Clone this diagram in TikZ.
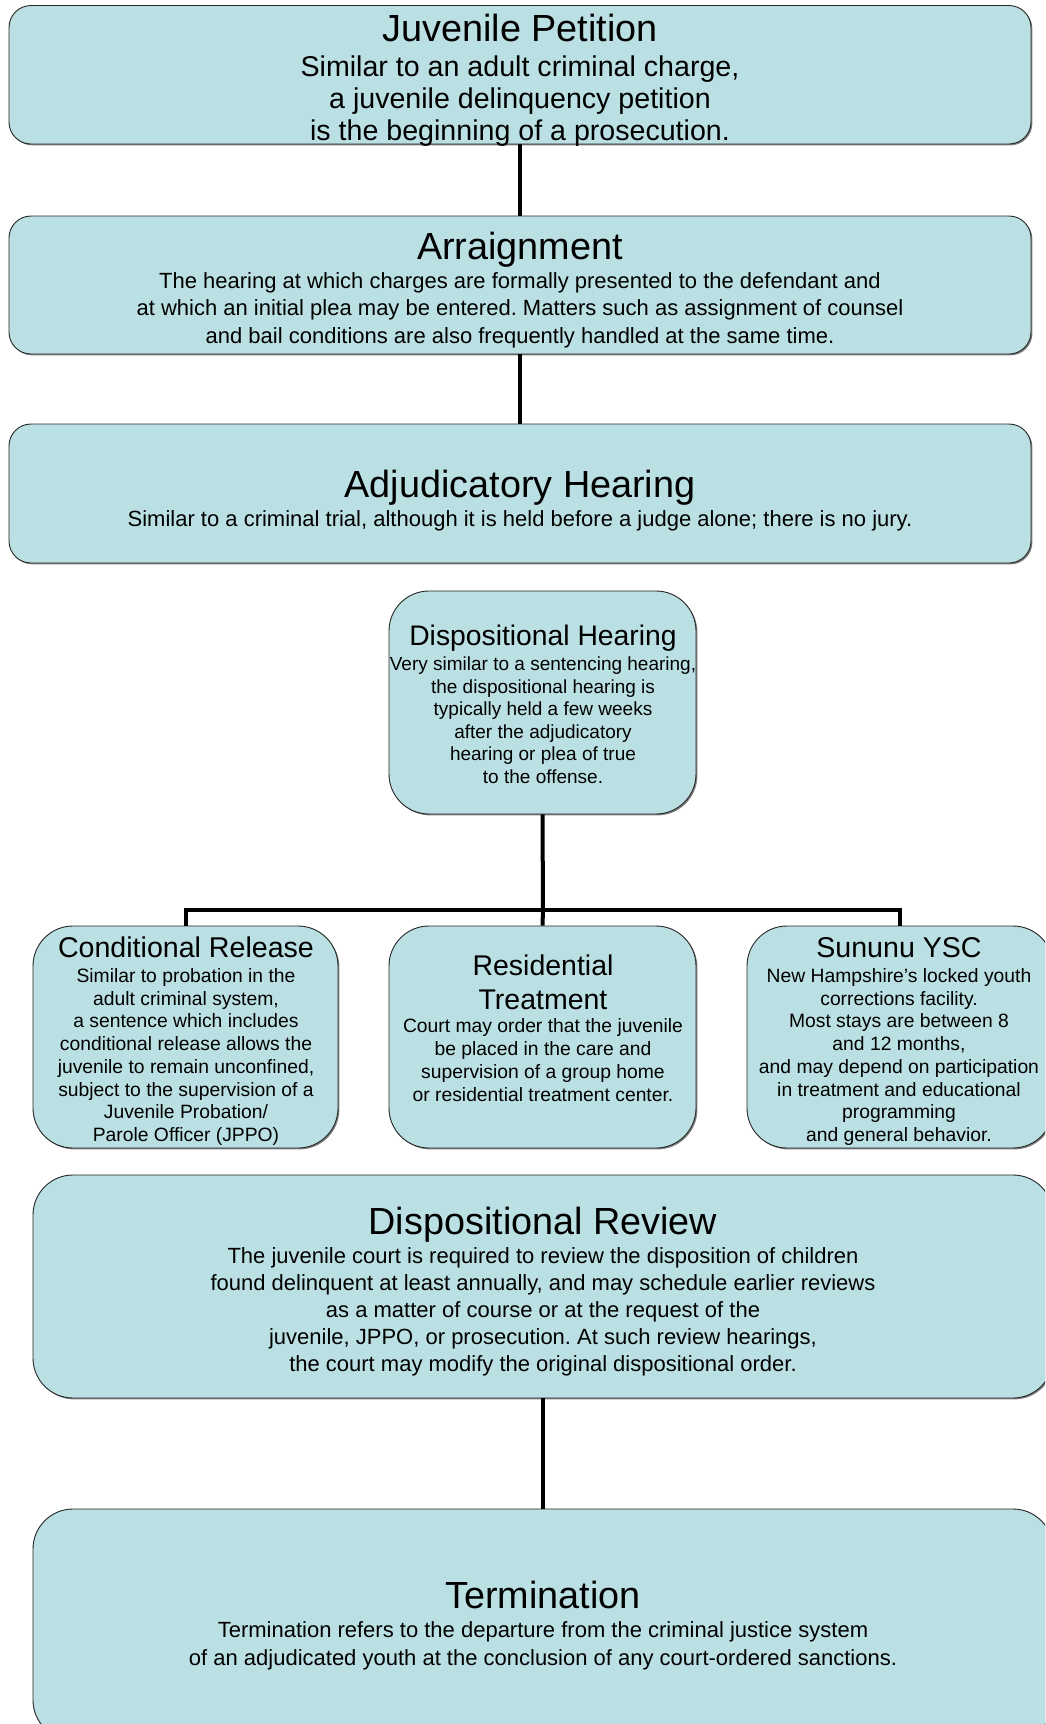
\documentclass[tikz,border=0pt]{standalone}
\usepackage{fontspec}
\setmainfont{Liberation Sans}
\frenchspacing
\usetikzlibrary{shadows}
\definecolor{boxfill}{RGB}{187,224,227}
\tikzset{
  box/.style={draw=black!85, line width=0.9pt, fill=boxfill, rectangle,
    drop shadow={shadow xshift=1.4pt, shadow yshift=-1.4pt, fill=black!50, opacity=1}},
  bigbox/.style={box, rounded corners=22pt},
  smallbox/.style={box, rounded corners=40pt},
  txt/.style={align=center, inner sep=0pt, anchor=base},
  conn/.style={line width=4pt, black},
}
\newcommand{\fs}[2]{\fontsize{#1}{#2}\selectfont}
\begin{document}
\begin{tikzpicture}[x=1pt, y=-1pt]
\clip (0,0) rectangle (1045,1724);
\fill[white] (0,0) rectangle (1045,1724);
% boxes
\node[bigbox, minimum width=1022pt, minimum height=138.5pt] (b1) at (520,74.75) {};
\node[bigbox, minimum width=1022pt, minimum height=138pt] (b2) at (520,285) {};
\node[bigbox, minimum width=1022pt, minimum height=139pt] (b3) at (520,493.5) {};
\node[smallbox, minimum width=307pt, minimum height=223pt] (b4) at (542.5,702.5) {};
\node[smallbox, minimum width=305pt, minimum height=222pt] (b5) at (185.5,1037) {};
\node[smallbox, minimum width=307pt, minimum height=222pt] (b6) at (542.5,1037) {};
\node[smallbox, minimum width=306pt, minimum height=222pt] (b7) at (900,1037) {};
\node[smallbox, minimum width=1020pt, minimum height=223pt] (b8) at (543,1286.5) {};
\node[smallbox, minimum width=1020pt, minimum height=231pt] (b9) at (543,1624.5) {};
% connectors
\coordinate (bar) at (543,910);
\draw[conn] (b1.south) -- (b2.north);
\draw[conn] (b2.south) -- (b3.north);
\draw[conn] (b4.south) -- (bar);
\draw[conn] (bar) -- (b6.north);
\draw[conn, line join=miter] (b5.north) |- (bar) -| (b7.north);
\draw[conn] (b8.south) -- (b9.north);
% texts (base anchor = baseline of last line)
\node[txt, font=\fs{37.8}{44}] (t1) at (520,41) {Juvenile Petition};
\node[txt, font=\fs{28.6}{32}] (d1) at (520,140.5) {Similar to an adult criminal charge,\\a juvenile delinquency petition\\is the beginning of a prosecution.};
\node[txt, font=\fs{37.8}{44}] (t2) at (520,259.5) {Arraignment};
\node[txt, font=\fs{22}{27.5}] (d2) at (520,343) {The hearing at which charges are formally presented to the defendant and\\at which an initial plea may be entered. Matters such as assignment of counsel\\and bail conditions are also frequently handled at the same time.};
\node[txt, font=\fs{37.8}{44}] (t3) at (520,497.5) {Adjudicatory Hearing};
\node[txt, font=\fs{22}{27.5}] (d3) at (520,526) {Similar to a criminal trial, although it is held before a judge alone; there is no jury.};
\node[txt, font=\fs{28.3}{34}] (t4) at (543,645) {Dispositional Hearing};
\node[txt, font=\fs{19}{22.6}] (d4) at (543,783.5) {Very similar to a sentencing hearing,\\the dispositional hearing is\\typically held a few weeks\\after the adjudicatory\\hearing or plea of true\\to the offense.};
\node[txt, font=\fs{28.6}{34}] (t5) at (186,957) {Conditional Release};
\node[txt, font=\fs{19.3}{22.7}] (d5) at (186,1141.4) {Similar to probation in the\\adult criminal system,\\a sentence which includes\\conditional release allows the\\juvenile to remain unconfined,\\subject to the supervision of a\\Juvenile Probation/\\Parole Officer (JPPO)};
\node[txt, font=\fs{28.5}{34}] (t6) at (543,1009) {Residential\\Treatment};
\node[txt, font=\fs{19.3}{23}] (d6) at (543,1101.5) {Court may order that the juvenile\\be placed in the care and\\supervision of a group home\\or residential treatment center.};
\node[txt, font=\fs{28.6}{34}] (t7) at (899,957) {Sununu YSC};
\node[txt, font=\fs{19.3}{22.7}] (d7) at (899,1141.4) {New Hampshire's locked youth\\corrections facility.\\Most stays are between 8\\and 12 months,\\and may depend on participation\\in treatment and educational\\programming\\and general behavior.};
\node[txt, font=\fs{37.8}{44}] (t8) at (543,1234.5) {Dispositional Review};
\node[txt, font=\fs{22}{27}] (d8) at (543,1371) {The juvenile court is required to review the disposition of children\\found delinquent at least annually, and may schedule earlier reviews\\as a matter of course or at the request of the\\juvenile, JPPO, or prosecution. At such review hearings,\\the court may modify the original dispositional order.};
\node[txt, font=\fs{37.8}{44}] (t9) at (543,1608.5) {Termination};
\node[txt, font=\fs{22}{28}] (d9) at (543,1665) {Termination refers to the departure from the criminal justice system\\of an adjudicated youth at the conclusion of any court-ordered sanctions.};
\end{tikzpicture}
\end{document}
